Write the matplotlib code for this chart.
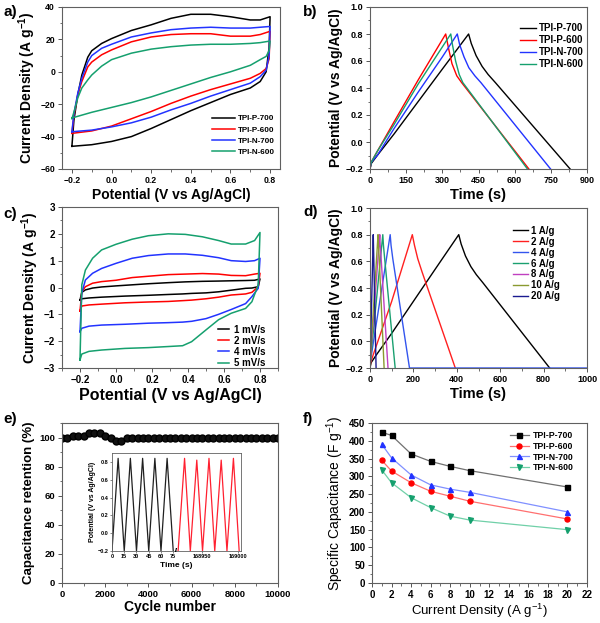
import numpy as np
import matplotlib
matplotlib.use('Agg')
import matplotlib.pyplot as plt
from matplotlib.ticker import MultipleLocator

plt.rcParams['font.family'] = ['Liberation Sans', 'DejaVu Sans']
plt.rcParams['font.weight'] = 'bold'
plt.rcParams['axes.labelweight'] = 'bold'
plt.rcParams['mathtext.default'] = 'regular'
plt.rcParams['axes.linewidth'] = 0.8

# ---- a) CV of the four samples ----
cv_a_up_x = [-0.2, -0.19, -0.17, -0.15, -0.12, -0.1, -0.05, 0.0, 0.1, 0.2, 0.3, 0.4, 0.5, 0.6, 0.7, 0.75, 0.8]
cv_a_dn_x = [0.8, 0.795, 0.78, 0.75, 0.7, 0.6, 0.5, 0.4, 0.3, 0.2, 0.1, 0.0, -0.1, -0.2]
cv_a_up = {
    'TPI-P-700': [-46, -30, -14, -2, 9, 13, 17.5, 20.5, 25.5, 29, 33, 35.5, 35.5, 34, 32, 32, 34],
    'TPI-P-600': [-38, -27, -14, -6, 3, 6, 10.5, 13.5, 18.5, 21.5, 23, 23.5, 23.5, 22, 22, 23, 25],
    'TPI-N-700': [-37, -26, -13, -4, 6, 10, 14.5, 17, 21.5, 24, 26, 27, 27.5, 27, 27, 27.5, 28],
    'TPI-N-600': [-29, -25, -16, -10, -5, -2, 3.5, 7.5, 11.5, 14, 15.5, 16.5, 17, 17, 17.5, 18, 19],
}
cv_a_dn = {
    'TPI-P-700': [34, 15, 0, -6, -10, -14, -19, -24, -29.5, -35, -40, -43, -45, -46],
    'TPI-P-600': [25, 8, 2, -1, -4, -7.5, -11, -15, -19.5, -24.5, -29, -33.5, -36.5, -38],
    'TPI-N-700': [28, 10, 1, -3, -7, -11, -15, -19.5, -23.5, -28, -31.5, -34, -36, -37],
    'TPI-N-600': [19, 13, 9.5, 7.5, 4, 0, -3.5, -7.5, -11.5, -15.5, -19, -22, -25, -28.5],
}
sample_colors = {'TPI-P-700': 'black', 'TPI-P-600': '#ff0000',
                 'TPI-N-700': '#2233ff', 'TPI-N-600': '#15a06e'}

# ---- b) GCD of the four samples ----
gcd_b_t = {
    'TPI-P-700': [0, 5, 30, 100, 200, 300, 409, 420, 440, 465, 490, 520, 830],
    'TPI-P-600': [0, 5, 30, 100, 200, 314, 325, 340, 360, 380, 659],
    'TPI-N-700': [0, 5, 30, 100, 200, 300, 362, 372, 390, 410, 435, 460, 749],
    'TPI-N-600': [0, 5, 30, 100, 200, 335, 342, 355, 370, 385, 653],
}
gcd_b_v = {
    'TPI-P-700': [-0.2, -0.16, -0.1, 0.06, 0.3, 0.54, 0.8, 0.73, 0.64, 0.56, 0.5, 0.44, -0.2],
    'TPI-P-600': [-0.2, -0.15, -0.07, 0.15, 0.46, 0.8, 0.7, 0.58, 0.49, 0.44, -0.2],
    'TPI-N-700': [-0.2, -0.15, -0.1, 0.1, 0.37, 0.63, 0.8, 0.72, 0.63, 0.55, 0.49, 0.44, -0.2],
    'TPI-N-600': [-0.2, -0.15, -0.07, 0.13, 0.43, 0.8, 0.72, 0.6, 0.5, 0.44, -0.2],
}

# ---- c) CV at different scan rates ----
cv_c_up_x = [-0.2, -0.19, -0.17, -0.13, -0.08, 0.0, 0.09, 0.18, 0.29, 0.385, 0.48, 0.57, 0.64, 0.72, 0.77, 0.8]
cv_c_dn_x = [0.8, 0.79, 0.755, 0.72, 0.64, 0.57, 0.5, 0.42, 0.37, 0.29, 0.18, 0.05, -0.08, -0.15, -0.19, -0.2]
cv_c_up = {
    '1 mV/s': [-0.47, -0.18, -0.09, -0.02, 0.02, 0.06, 0.1, 0.14, 0.18, 0.21, 0.23, 0.24, 0.25, 0.26, 0.27, 0.32],
    '2 mV/s': [-0.88, -0.16, 0.03, 0.16, 0.22, 0.27, 0.37, 0.42, 0.48, 0.5, 0.52, 0.5, 0.45, 0.44, 0.5, 0.53],
    '4 mV/s': [-1.65, -0.2, 0.28, 0.53, 0.71, 0.9, 1.09, 1.19, 1.25, 1.25, 1.2, 1.11, 1.0, 0.97, 1.0, 1.09],
    '5 mV/s': [-2.7, 0.1, 0.65, 1.09, 1.4, 1.61, 1.8, 1.93, 2.0, 1.98, 1.89, 1.75, 1.62, 1.62, 1.75, 2.05],
}
cv_c_dn = {
    '1 mV/s': [0.32, 0.03, -0.02, -0.03, -0.1, -0.16, -0.2, -0.22, -0.24, -0.26, -0.29, -0.32, -0.36, -0.39, -0.42, -0.47],
    '2 mV/s': [0.53, 0.03, -0.18, -0.24, -0.28, -0.36, -0.42, -0.47, -0.49, -0.52, -0.54, -0.57, -0.62, -0.65, -0.69, -0.88],
    '4 mV/s': [1.09, -0.03, -0.34, -0.6, -0.82, -1.0, -1.16, -1.26, -1.29, -1.31, -1.33, -1.37, -1.4, -1.44, -1.52, -1.65],
    '5 mV/s': [2.05, 0.1, -0.53, -0.78, -0.96, -1.2, -1.58, -2.02, -2.17, -2.2, -2.24, -2.27, -2.33, -2.38, -2.48, -2.7],
}
rate_colors = {'1 mV/s': 'black', '2 mV/s': '#ff0000', '4 mV/s': '#2233ff', '5 mV/s': '#15a06e'}

# ---- d) GCD at different current densities ----
gcd_d_t = {
    '1 A/g': [0, 5, 30, 100, 200, 300, 409, 420, 440, 465, 490, 520, 828],
    '2 A/g': [0, 3, 15, 100, 195, 205, 220, 240, 393],
    '4 A/g': [0, 2, 93, 97, 105, 182, 1000],
    '6 A/g': [0, 2, 59, 62, 67, 116],
    '8 A/g': [0, 1, 45, 47, 51, 83],
    '10 A/g': [0, 1, 37, 39, 42, 65],
    '20 A/g': [0, 1, 15, 16, 17, 28],
}
gcd_d_v = {
    '1 A/g': [-0.2, -0.16, -0.1, 0.06, 0.3, 0.54, 0.8, 0.73, 0.64, 0.56, 0.5, 0.44, -0.2],
    '2 A/g': [-0.2, -0.16, -0.1, 0.3, 0.8, 0.72, 0.62, 0.52, -0.2],
    '4 A/g': [-0.2, -0.15, 0.8, 0.72, 0.62, -0.2, -0.2],
    '6 A/g': [-0.2, -0.15, 0.8, 0.72, 0.63, -0.2],
    '8 A/g': [-0.2, -0.15, 0.8, 0.72, 0.63, -0.2],
    '10 A/g': [-0.2, -0.15, 0.8, 0.72, 0.64, -0.2],
    '20 A/g': [-0.2, -0.15, 0.8, 0.72, 0.65, -0.2],
}
density_colors = {'1 A/g': 'black', '2 A/g': '#ff2020', '4 A/g': '#3355ee', '6 A/g': '#1aa070',
                  '8 A/g': '#c040c0', '10 A/g': '#8a9a30', '20 A/g': '#1a1a90'}

# ---- e) cycling stability ----
cycles = list(range(0, 10001, 250))
retention = [100, 100, 101.3, 101.3, 101.3, 103, 103, 103, 101.3, 100, 97.7, 97.7] + [100] * 29
inset_black_t = [0, 7.5, 15, 22.5, 30, 37.5, 45, 52.5, 60, 67.5, 75]
inset_black_v = [-0.2, 0.84, -0.2, 0.84, -0.2, 0.84, -0.2, 0.84, -0.2, 0.84, -0.2]
inset_red_t = [168917, 168926, 168934, 168943, 168951, 168960, 168968, 168977, 168985, 168994, 169002]
inset_red_v = [-0.2, 0.84, -0.2, 0.82, -0.2, 0.84, -0.2, 0.82, -0.2, 0.84, -0.2]

# ---- f) rate capability ----
current_density = [1, 2, 4, 6, 8, 10, 20]
spec_cap = {
    'TPI-P-700': [424, 415, 363, 342, 328, 316, 270],
    'TPI-P-600': [345, 315, 282, 258, 244, 230, 180],
    'TPI-N-700': [390, 352, 304, 276, 264, 255, 200],
    'TPI-N-600': [318, 282, 240, 212, 188, 177, 150],
}
f_style = {'TPI-P-700': ('s', 'black', '#707070'), 'TPI-P-600': ('o', '#ff0000', '#ff7070'),
           'TPI-N-700': ('^', '#2233ff', '#8090ff'), 'TPI-N-600': ('v', '#15a06e', '#70d0a8')}


def style(ax, fs, xmaj, xmin, ymaj, ymin):
    ax.xaxis.set_major_locator(MultipleLocator(xmaj))
    ax.xaxis.set_minor_locator(MultipleLocator(xmin))
    ax.yaxis.set_major_locator(MultipleLocator(ymaj))
    ax.yaxis.set_minor_locator(MultipleLocator(ymin))
    ax.tick_params(which='major', direction='out', length=3, width=0.7, labelsize=fs, pad=2, color='#555555')
    ax.tick_params(which='minor', direction='out', length=1.8, width=0.6, color='#555555')
    for lbl in ax.get_xticklabels() + ax.get_yticklabels():
        lbl.set_fontweight('bold')
    for s in ax.spines.values():
        s.set_color('#606060')


fig = plt.figure(figsize=(6, 6.23), dpi=100)
W, H = 600.0, 623.0


def box(l, r, t, b):
    return [l / W, 1 - b / H, (r - l) / W, (b - t) / H]


# a)
ax = fig.add_axes(box(62, 280, 7, 169))
for name in cv_a_up:
    x = cv_a_up_x + cv_a_dn_x
    y = cv_a_up[name] + cv_a_dn[name]
    ax.plot(x, y, color=sample_colors[name], lw=1.1, label=name)
ax.set_xlim(-0.25, 0.85)
ax.set_ylim(-60, 40)
style(ax, 6.2, 0.2, 0.1, 20, 10)
ax.set_xlabel('Potential (V vs Ag/AgCl)', fontsize=10, labelpad=2)
ax.set_ylabel('Current Density (A g$^{-1}$)', fontsize=10, labelpad=2)
ax.legend(loc='upper left', bbox_to_anchor=(0.69, 0.335), frameon=False, fontsize=5.8,
          handlelength=2.8, handletextpad=0.4, labelspacing=0.45, borderpad=0, borderaxespad=0)

# b)
ax = fig.add_axes(box(370, 587, 7, 169))
for name in gcd_b_t:
    ax.plot(gcd_b_t[name], gcd_b_v[name], color=sample_colors[name], lw=1.0, label=name)
ax.set_xlim(0, 900)
ax.set_ylim(-0.2, 1.0)
style(ax, 6.5, 150, 75, 0.2, 0.1)
ax.set_xlabel('Time (s)', fontsize=10.5, labelpad=2)
ax.set_ylabel('Potential (V vs Ag/AgCl)', fontsize=10, labelpad=2)
ax.legend(loc='upper left', bbox_to_anchor=(0.69, 0.9), frameon=False, fontsize=7,
          handlelength=1.7, handletextpad=0.3, labelspacing=0.2, borderpad=0, borderaxespad=0)

# c)
ax = fig.add_axes(box(62, 278, 207, 368))
for name in cv_c_up:
    ax.plot(cv_c_up_x + cv_c_dn_x, cv_c_up[name] + cv_c_dn[name], color=rate_colors[name], lw=1.1, label=name)
ax.set_xlim(-0.3, 0.9)
ax.set_ylim(-3, 3)
style(ax, 7, 0.2, 0.1, 1, 0.5)
ax.set_xlabel('Potential (V vs Ag/AgCl)', fontsize=11.5, labelpad=2)
ax.set_ylabel('Current Density (A g$^{-1}$)', fontsize=10, labelpad=2)
ax.legend(loc='upper left', bbox_to_anchor=(0.72, 0.27), frameon=False, fontsize=7,
          handlelength=1.2, handletextpad=0.5, labelspacing=0.12, borderpad=0, borderaxespad=0)

# d)
ax = fig.add_axes(box(370, 587, 208, 368))
for name in gcd_d_t:
    ax.plot(gcd_d_t[name], gcd_d_v[name], color=density_colors[name], lw=1.0, label=name)
ax.set_xlim(0, 1000)
ax.set_ylim(-0.2, 1.0)
style(ax, 6.5, 200, 100, 0.2, 0.1)
ax.set_xlabel('Time (s)', fontsize=10.5, labelpad=2)
ax.set_ylabel('Potential (V vs Ag/AgCl)', fontsize=10, labelpad=2)
ax.legend(loc='upper left', bbox_to_anchor=(0.66, 0.89), frameon=False, fontsize=7,
          handlelength=1.5, handletextpad=0.3, labelspacing=0.1, borderpad=0, borderaxespad=0)

# e)
ax = fig.add_axes(box(62, 278, 423, 583))
ax.plot(cycles, retention, color='black', lw=1.0, marker='o', ms=5, mfc='#111111', mec='black')
ax.set_xlim(0, 10000)
ax.set_ylim(0, 110)
style(ax, 6.8, 2000, 1000, 20, 10)
ax.set_xlabel('Cycle number', fontsize=10, labelpad=1)
ax.set_ylabel('Capacitance retention (%)', fontsize=9.5, labelpad=3)

ins = fig.add_axes(box(112, 241, 453, 551))
brk_t0 = 168950
brk_d0 = 110
brk_scale = 0.88
red_d = [brk_d0 + (t - brk_t0) * brk_scale for t in inset_red_t]
ins.plot(inset_black_t, inset_black_v, color='#202020', lw=0.9)
ins.plot(red_d, inset_red_v, color='#ff2030', lw=0.9)
ins.set_xlim(0, 158)
ins.set_ylim(-0.2, 0.9)
ins.set_xticks([0, 15, 30, 45, 60, 75, brk_d0, brk_d0 + 50 * brk_scale])
ins.set_xticklabels(['0', '15', '30', '45', '60', '75', '168950', '169000'], fontweight='bold')
ins.set_yticks([-0.2, 0.0, 0.2, 0.4, 0.6, 0.8])
ins.tick_params(direction='out', length=1.5, width=0.5, labelsize=4, pad=1, color='#555555')
for s in ins.spines.values():
    s.set_color('#606060')
    s.set_linewidth(0.6)
ins.text(79, -0.2, '//', fontsize=4, ha='center', va='center', clip_on=False)
ins.set_xlabel('Time (s)', fontsize=6, labelpad=2)
ins.set_ylabel('Potential (V vs Ag/AgCl)', fontsize=5, labelpad=1)

# f)
ax = fig.add_axes(box(372, 587, 423, 583))
for name in spec_cap:
    mk, mc, lc = f_style[name]
    ax.plot(current_density, spec_cap[name], color=lc, lw=0.9, marker=mk, ms=3.6, mfc=mc, mec=mc, label=name)
ax.set_xlim(0, 22)
ax.set_ylim(0, 450)
style(ax, 7, 2, 1, 50, 25)
ax.set_xlabel('Current Density (A g$^{-1}$)', fontsize=9.5, fontweight='normal', labelpad=1)
ax.set_ylabel('Specific Capacitance (F g$^{-1}$)', fontsize=10, fontweight='normal', labelpad=2)
ax.legend(loc='upper left', bbox_to_anchor=(0.64, 0.95), frameon=False, fontsize=6.3,
          handlelength=2.2, handletextpad=0.5, labelspacing=0.2, borderpad=0, borderaxespad=0)

for lab, x, y in [('a)', 3, 16), ('b)', 303, 16), ('c)', 3, 218), ('d)', 303, 216), ('e)', 3, 423), ('f)', 303, 423)]:
    fig.text(x / W, 1 - y / H, lab, fontsize=11, fontweight='bold', va='baseline')

fig.savefig('out.png', dpi=100)
